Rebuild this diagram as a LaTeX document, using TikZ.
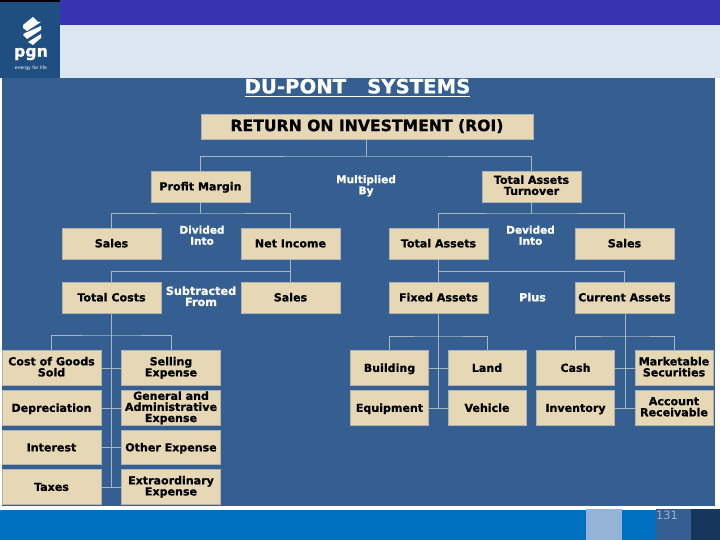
\documentclass[tikz,border=0pt]{standalone}
\usepackage{fontspec}
\setmainfont{DejaVu Sans}[BoldFeatures={FakeBold=0.8}]
\usepackage{xcolor}
\definecolor{panelbg}{HTML}{365F91}
\definecolor{boxbg}{HTML}{E6D8B5}
\definecolor{wirecol}{HTML}{A9B9C2}
\definecolor{barblue}{HTML}{0070C0}
\definecolor{topbar}{HTML}{3833B0}
\definecolor{paleband}{HTML}{DCE6F2}
\definecolor{logobg}{HTML}{1F4E80}
\definecolor{sqlight}{HTML}{95B3D7}
\definecolor{sqdark}{HTML}{17365D}
\newcommand{\lblpad}{\rule[-1.5pt]{0pt}{7.4pt}}

\begin{document}
\begin{tikzpicture}[
    x=0.02cm, y=-0.02cm,
    every node/.style={font=\bfseries\fontsize{6.3}{6.3}\selectfont, align=center, inner sep=0pt},
    wbox/.style={rectangle, draw=gray!60, line width=0.3pt, fill=boxbg, text=black, minimum width=1.98cm, minimum height=0.62cm,
                 execute at begin node=\lblpad, execute at end node=\lblpad},
    cbox/.style={wbox, minimum height=0.69cm},
    gbox/.style={wbox, minimum width=1.56cm, minimum height=0.69cm},
    note/.style={text=white, font=\bfseries\fontsize{6}{6.3}\selectfont,
                 execute at begin node=\lblpad, execute at end node=\lblpad},
    notewide/.style={note, font=\bfseries\fontsize{6.4}{6.3}\selectfont},
    wire/.style={draw=wirecol, line width=0.5pt}
]
    \useasboundingbox (0,0) rectangle (720,540);
    % page furniture
    \fill[white] (0,0) rectangle (720,540);
    \fill[panelbg] (2,78) rectangle (715,506);
    \fill[topbar] (60,0) rectangle (720,25);
    \fill[paleband] (60,25) rectangle (720,78);
    \fill[barblue] (0,510) rectangle (720,540);
    \fill[sqlight] (586,509) rectangle (622,540);
    \fill[panelbg] (656,509) rectangle (691,540);
    \fill[sqdark] (691,509) rectangle (720,540);
    \node[font=\fontsize{6.5}{7}\selectfont, text=sqlight] (pageno) at (667,515) {131};
    % logo
    \fill[logobg] (0,2) rectangle (60,78);
    \fill[black] (0,0) rectangle (60,2);
    \fill[white] (33,17) -- (38,22) -- (41,22) -- (27,31) -- (23,28) -- (23,25) -- cycle;
    \fill[white] (41,26) -- (41,30) -- (27,39) -- (23,35) -- (25,33) -- cycle;
    \fill[white] (41,34) -- (41,38) -- (33,45) -- (28,42) -- cycle;
    \node[font=\bfseries\fontsize{9}{10}\selectfont, text=white] (pgn) at (31,54) {pgn};
    \node[font=\fontsize{2.6}{3}\selectfont, text=white] (tagline) at (31,68) {energy for life};
    % title
    \node[font=\bfseries\fontsize{11.2}{12}\selectfont, text=white] (title) at (357.5,88) {\underline{DU-PONT\hspace{0.42cm}SYSTEMS}};
    \node[wbox, minimum width=6.64cm, minimum height=0.5cm, font=\bfseries\fontsize{8.9}{9}\selectfont] (roi) at (367,126.5) {RETURN ON INVESTMENT (ROI)};
    % second level
    \node[wbox] (pm)  at (200.5,186.5) {Profit Margin};
    \node[wbox] (tat) at (531.5,186.5) {Total Assets\\Turnover};
    \node[note] (mult) at (366,186) {Multiplied\\By};
    % third level
    \node[wbox] (sales)  at (111.5,243.5) {Sales};
    \node[wbox] (net)    at (290.5,243.5) {Net Income};
    \node[wbox] (tass)   at (438.5,243.5) {Total Assets};
    \node[wbox] (sales2) at (624.5,243.5) {Sales};
    \node[note] (divd) at (202,236.5) {Divided\\Into};
    \node[note] (devd) at (530.5,236.5) {Devided\\Into};
    % fourth level
    \node[wbox] (cost)   at (111.5,297.5) {Total Costs};
    \node[wbox] (sales3) at (290.5,297.5) {Sales};
    \node[wbox] (fixed)  at (438.5,297.5) {Fixed Assets};
    \node[wbox] (curr)   at (624.5,297.5) {Current Assets};
    \node[notewide] (sub)  at (201,297.5) {Subtracted\\From};
    \node[notewide] (plus) at (532.5,297.5) {Plus};
    % cost items
    \node[cbox] (cogs)  at (51.5,368)  {Cost of Goods\\Sold};
    \node[cbox] (sell)  at (171,368)   {Selling\\Expense};
    \node[cbox] (depr)  at (51.5,408)  {Depreciation};
    \node[cbox] (gen)   at (171,408)   {General and\\Administrative\\Expense};
    \node[cbox] (inter) at (51.5,447.5) {Interest};
    \node[cbox] (other) at (171,447.5) {Other Expense};
    \node[cbox] (tax)   at (51.5,487)  {Taxes};
    \node[cbox] (extra) at (171,487)   {Extraordinary\\Expense};
    % asset items
    \node[gbox] (build) at (389.5,368) {Building};
    \node[gbox] (land)  at (487,368)   {Land};
    \node[gbox] (cash)  at (575.5,368) {Cash};
    \node[gbox] (mkt)   at (674,368)   {Marketable\\Securities};
    \node[gbox] (equip) at (389.5,408) {Equipment};
    \node[gbox] (veh)   at (487,408)   {Vehicle};
    \node[gbox] (inv)   at (575.5,408) {Inventory};
    \node[gbox] (acct)  at (674,408)   {Account\\Receivable};
    % bus points
    \coordinate (roibus) at (366,156);
    \coordinate (pmbus)  at (200.5,213);
    \coordinate (tatbus) at (531.5,213);
    \coordinate (netbus) at (290.5,271);
    \coordinate (tabus)  at (438.5,271);
    \coordinate (costbus) at (111.5,335);
    \coordinate (fixbus) at (438.5,336);
    \coordinate (curbus) at (625.5,336);
    \coordinate (costend) at (111.5,487);
    \coordinate (fixend) at (438.5,408);
    \coordinate (curend) at (625.5,408);
    % connectors
    \draw[wire] (roi.south -| roibus) -- (roibus);
    \draw[wire] (pm.north) |- (roibus) -| (tat.north);
    \draw[wire] (pm.south) -- (pmbus);
    \draw[wire] (sales.north) |- (pmbus) -| (net.north);
    \draw[wire] (tat.south) -- (tatbus);
    \draw[wire] (tass.north) |- (tatbus) -| (sales2.north);
    \draw[wire] (net.south) -- (netbus);
    \draw[wire] (cost.north) |- (netbus) -- (sales3.north);
    \draw[wire] (tass.south) -- (tabus);
    \draw[wire] (fixed.north) -- (tabus) -| (curr.north);
    \draw[wire] (cost.south) -- (costend);
    \draw[wire] (cogs.north) |- (costbus) -| (sell.north);
    \draw[wire] (cogs.east) -- (sell.west);
    \draw[wire] (depr.east) -- (gen.west);
    \draw[wire] (inter.east) -- (other.west);
    \draw[wire] (tax.east) -- (extra.west);
    \draw[wire] (fixed.south) -- (fixend);
    \draw[wire] (build.north) |- (fixbus) -| (land.north);
    \draw[wire] (build.east) -- (land.west);
    \draw[wire] (equip.east) -- (veh.west);
    \draw[wire] (curr.south -| curbus) -- (curend);
    \draw[wire] (cash.north) |- (curbus) -| (mkt.north);
    \draw[wire] (cash.east) -- (mkt.west);
    \draw[wire] (inv.east) -- (acct.west);
\end{tikzpicture}
\end{document}
